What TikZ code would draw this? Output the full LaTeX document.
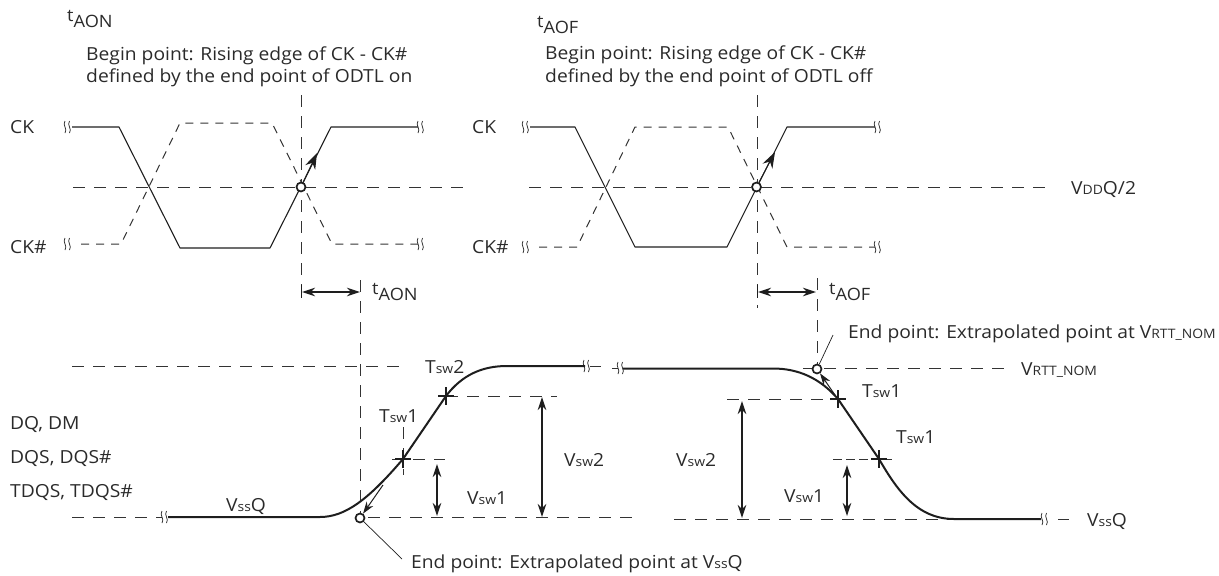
\documentclass[tikz,border=0pt]{standalone}
\usepackage{fontspec}
\setmainfont[FakeStretch=1.07]{Open Sans}
\usetikzlibrary{arrows.meta}
\definecolor{ink}{HTML}{1E1E1E}
\definecolor{txt}{HTML}{2A2A2A}
\definecolor{dashc}{HTML}{333333}
\newcommand{\smalltxt}[1]{{\fontsize{13}{13}\selectfont #1}}
\newcommand{\tsym}[1]{\raisebox{5.5pt}{\fontsize{17}{17}\selectfont t}{\fontsize{17}{18}\selectfont #1}}
\tikzset{
  lbl/.style={anchor=base west,inner sep=0pt,text=txt,font=\fontsize{18}{20}\selectfont},
  sig/.style={draw=ink,line width=1.1pt,line join=round},
  sigd/.style={draw=dashc,line width=1pt,dash pattern=on 8pt off 7pt},
  wave/.style={draw=ink,line width=2pt,line join=round},
  guide/.style={draw=dashc,line width=.9pt,dash pattern=on 12pt off 9pt},
  dim/.style={draw=ink,line width=1.1pt,{Stealth[length=13pt,width=8.5pt]}-{Stealth[length=13pt,width=8.5pt]}},
  ext/.style={draw=ink,line width=1pt,-{Stealth[length=16pt,width=11pt]}},
  exts/.style={draw=ink,line width=1pt,-{Stealth[length=12pt,width=8pt]}},
  circ/.style={circle,draw=ink,fill=white,line width=1.7pt,minimum size=9pt,inner sep=0pt},
  brk/.pic={\draw[draw=ink,line width=.7pt] (-3,-6) .. controls (-6,-2) and (0,2) .. (-3,6) (1.5,-6) .. controls (-1.5,-2) and (4.5,2) .. (1.5,6);},
  cross/.pic={\draw[draw=ink,line width=1.5pt] (-8,0) -- (8,0) (0,-9) -- (0,9);}
}
\begin{document}
\begin{tikzpicture}[x=1pt,y=-1pt]
\useasboundingbox (0,0) rectangle (1219,576);
% headers
\node[lbl] (hon) at (67,27) {\tsym{AON}};
\node[lbl] (bon1) at (86,60) {Begin point: Rising edge of CK - CK\#};
\node[lbl] (bon2) at (86,82) {defined by the end point of ODTL on};
\node[lbl] (hof) at (537,33) {\tsym{AOF}};
\node[lbl] (bof1) at (545,59) {Begin point: Rising edge of CK - CK\#};
\node[lbl] (bof2) at (545,82) {defined by the end point of ODTL off};
% labels
\node[lbl] (ck1) at (10,133) {CK};
\node[lbl] (ckb1) at (10,253) {CK\#};
\node[lbl] (ck2) at (472,133) {CK};
\node[lbl] (ckb2) at (472,253) {CK\#};
\node[lbl] (vddq) at (1071,194) {V\smalltxt{DD}Q/2};
\node[lbl] (dq) at (10,429) {DQ, DM};
\node[lbl] (dqs) at (10,463) {DQS, DQS\#};
\node[lbl] (tdqs) at (10,497) {TDQS, TDQS\#};
% guides top
\draw[guide] (73,187) -- (467,187);
\draw[guide] (529,187) -- (1052,187);
\coordinate (c1) at (301,187);
\coordinate (c2) at (756.5,187);
\draw[guide] (301,95) -- (301,299);
\draw[guide] (360,280) -- (360,518);
\draw[guide] (757,95) -- (757,308);
\draw[guide] (817,278) -- (817,368);
% CK signals left
\draw[sig] (72,127) -- (119,127) -- (180,248) -- (270,248) -- (331,127) -- (418,127);
\draw[sigd] (81,244) -- (121,244) -- (180,123) -- (272,123) -- (332,244) -- (418,244);
\pic at (68,127) {brk}; \pic at (68,244) {brk}; \pic at (421,127) {brk}; \pic at (421,244) {brk};
% CK signals right
\draw[sig] (530,127) -- (575,127) -- (635,247) -- (727,247) -- (787,127) -- (875,127);
\draw[sigd] (539,247) -- (577,247) -- (635,127) -- (728,127) -- (787,247) -- (875,247);
\pic at (526,127) {brk}; \pic at (526,247) {brk}; \pic at (878,127) {brk}; \pic at (878,247) {brk};
% circles, arrows
\node[circ] (p1) at (c1) {};
\node[circ] (p2) at (c2) {};
\coordinate (a1) at (317,153);
\coordinate (a2) at (775,152);
\draw[ext] (p1) -- (a1);
\draw[ext] (p2) -- (a2);
% tAON, tAOF
\draw[dim] (302,292) -- (360,292);
\draw[dim] (758,292) -- (816,292);
\draw[draw=ink,line width=.9pt] (301.5,285) -- (301.5,298) (757.5,285) -- (757.5,298);
\node[lbl] (ton) at (372,300) {\tsym{AON}};
\node[lbl] (tof) at (829,300) {\tsym{AOF}};
% lower guides
\draw[guide] (72,366) -- (402,366);
\draw[guide] (72,517) -- (162,517);
\draw[guide] (368,517) -- (638,517);
\draw[guide] (803,368.5) -- (1005,368.5);
\draw[guide] (674,519) -- (954,519);
\draw[guide] (1058,519) -- (1069,519);
\draw[guide] (446,396) -- (557,396);
\draw[guide] (392,459) -- (445,459);
\draw[guide] (403,427) -- (403,475);
\draw[guide] (727,399) -- (838,399);
\draw[guide,dash pattern=on 9pt off 4pt] (833,459) -- (892,459);
\draw[guide] (590,366) -- (601,366);
\draw[guide] (612,368) -- (618,368);
% waves
\draw[wave] (168,517) -- (320,517) .. controls (345,517) and (368,500) .. (403,459) -- (446,396) .. controls (462,375) and (482,366) .. (507,366) -- (585,366);
\draw[wave] (623,368.5) -- (773,368.5) .. controls (798,368.5) and (820,378) .. (838,399) -- (879,459) .. controls (897,490) and (917,519) .. (954,519) -- (1041,519);
\pic at (165,517) {brk}; \pic at (587,366) {brk}; \pic at (621,368) {brk}; \pic at (1045,519) {brk};
\pic at (403,459) {cross};
\pic at (446,396) {cross};
\pic at (838,399) {cross};
\pic at (879,459) {cross};
% dim arrows
\draw[dim] (542,397) -- (542,517);
\draw[dim] (437,464) -- (437,516);
\draw[dim] (742,401) -- (742,518);
\draw[dim] (847,465) -- (847,516);
% extrapolated points
\node[circ] (e1) at (360,518) {};
\node[circ] (e2) at (817,369) {};
\coordinate (x1) at (383,485);
\coordinate (x2) at (835,395);
\draw[exts] (x1) -- (e1);
\draw[exts] (x2) -- (e2);
\node[lbl] (end1) at (411,568) {End point: Extrapolated point at V\smalltxt{ss}Q};
\node[lbl] (end2) at (848,338) {End point: Extrapolated point at V\smalltxt{RTT\_NOM}};
\coordinate (l1) at (402,559);
\coordinate (l2) at (833,335);
\draw[draw=ink,line width=.7pt] (e1) -- (l1);
\draw[draw=ink,line width=.7pt] (e2) -- (l2);
% remaining labels
\node[lbl] at (226,511) {V\smalltxt{ss}Q};
\node[lbl] at (425,373) {T\smalltxt{sw}2};
\node[lbl] at (379,422) {T\smalltxt{sw}1};
\node[lbl] at (467,504) {V\smalltxt{sw}1};
\node[lbl] at (564,466) {V\smalltxt{sw}2};
\node[lbl] at (862,397) {T\smalltxt{sw}1};
\node[lbl] at (896,443) {T\smalltxt{sw}1};
\node[lbl] at (676,466) {V\smalltxt{sw}2};
\node[lbl] at (784,502) {V\smalltxt{sw}1};
\node[lbl] at (1021,375) {V\smalltxt{RTT\_NOM}};
\node[lbl] at (1087,526) {V\smalltxt{ss}Q};
\end{tikzpicture}
\end{document}
